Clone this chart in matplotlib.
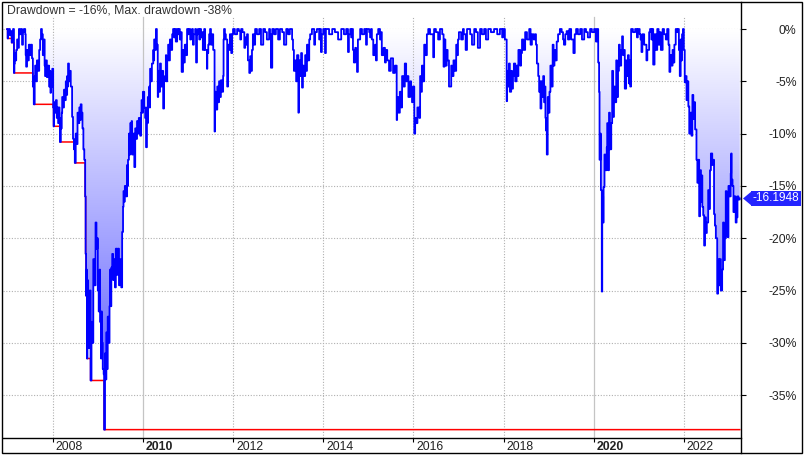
import numpy as np
import matplotlib
matplotlib.use("Agg")
import matplotlib.pyplot as plt
import matplotlib.transforms as mtransforms
from matplotlib.colors import LinearSegmentedColormap
from matplotlib.patches import Polygon, Rectangle
from matplotlib.lines import Line2D
from matplotlib.path import Path

# drawdown (%), (decimal year, value)
dd_2007 = [
    (2006.99, 0.0), (2007.00, -0.9), (2007.01, -0.3), (2007.03, 0.0), (2007.05, -0.6),
    (2007.07, -0.2), (2007.09, -1.3), (2007.10, -0.5), (2007.12, 0.0), (2007.14, -4.2),
    (2007.15, -3.3), (2007.16, -2.3), (2007.18, -3.0), (2007.19, -2.0), (2007.21, -1.0),
    (2007.23, -1.8), (2007.25, 0.0), (2007.27, -0.5), (2007.30, 0.0), (2007.32, -1.5),
    (2007.34, -0.3), (2007.36, 0.0), (2007.39, -0.5), (2007.40, -2.5), (2007.41, -3.6),
    (2007.43, -2.0), (2007.45, -3.0), (2007.47, -1.5), (2007.50, -2.5), (2007.52, -1.5),
    (2007.54, -2.8), (2007.56, -5.5), (2007.58, -7.2), (2007.60, -4.5), (2007.61, -3.5),
    (2007.63, -5.0), (2007.65, -3.0), (2007.67, -4.0), (2007.70, -2.0), (2007.72, -1.0),
    (2007.74, 0.0), (2007.76, -0.5), (2007.78, -2.5), (2007.81, -1.0), (2007.82, -3.5),
    (2007.83, -4.5), (2007.85, -3.0), (2007.87, -4.6), (2007.90, -3.5), (2007.92, -5.5),
    (2007.94, -4.0), (2007.95, -6.1), (2007.96, -4.5), (2007.98, -5.5), (2007.99, -3.8),
]
dd_2008 = [
    (2008.01, -7.5), (2008.02, -9.3), (2008.03, -7.0), (2008.05, -8.0), (2008.07, -6.8),
    (2008.09, -8.5), (2008.10, -7.5), (2008.12, -9.0), (2008.14, -7.5), (2008.15, -8.5),
    (2008.16, -10.8), (2008.18, -9.5), (2008.20, -8.0), (2008.21, -6.5), (2008.23, -7.5),
    (2008.25, -5.8), (2008.27, -6.8), (2008.29, -5.0), (2008.30, -6.3), (2008.32, -4.5),
    (2008.33, -5.5), (2008.34, -3.3), (2008.36, -5.0), (2008.38, -4.0), (2008.40, -5.5),
    (2008.43, -8.4), (2008.45, -10.5), (2008.47, -11.5), (2008.49, -12.8), (2008.51, -10.0),
    (2008.53, -11.0), (2008.55, -8.0), (2008.57, -9.0), (2008.59, -7.5), (2008.61, -8.7),
    (2008.62, -7.2), (2008.64, -8.0), (2008.66, -9.5), (2008.68, -11.5), (2008.70, -12.5),
    (2008.72, -16.0), (2008.73, -21.5), (2008.74, -25.5), (2008.75, -23.0), (2008.76, -31.5),
    (2008.77, -24.0), (2008.78, -29.0), (2008.79, -26.0), (2008.80, -30.5), (2008.82, -25.0),
    (2008.84, -33.6), (2008.86, -28.0), (2008.88, -30.0), (2008.90, -22.0), (2008.92, -24.5),
    (2008.95, -18.5), (2008.97, -21.0), (2008.99, -20.0),
]
dd_2009 = [
    (2009.00, -25.0), (2009.02, -27.0), (2009.04, -23.0), (2009.05, -28.0), (2009.07, -31.5),
    (2009.08, -27.0), (2009.09, -30.0), (2009.11, -32.5), (2009.13, -33.0), (2009.14, -38.3),
    (2009.16, -31.0), (2009.17, -33.5), (2009.19, -29.0), (2009.20, -32.5), (2009.22, -27.5),
    (2009.24, -30.0), (2009.26, -26.5), (2009.27, -23.0), (2009.29, -26.5), (2009.30, -22.8),
    (2009.32, -21.5), (2009.34, -24.0), (2009.36, -22.0), (2009.38, -24.7), (2009.40, -21.0),
    (2009.43, -23.5), (2009.45, -21.0), (2009.47, -24.5), (2009.49, -22.0), (2009.52, -24.7),
    (2009.54, -19.4), (2009.56, -17.0), (2009.57, -15.5), (2009.58, -16.5), (2009.60, -15.0),
    (2009.63, -16.0), (2009.65, -13.0), (2009.66, -15.0), (2009.67, -12.5), (2009.69, -10.0),
    (2009.70, -12.0), (2009.72, -9.0), (2009.74, -11.0), (2009.75, -8.8), (2009.76, -12.0),
    (2009.78, -10.0), (2009.81, -13.2), (2009.83, -9.5), (2009.85, -10.5), (2009.87, -8.8),
    (2009.89, -10.0), (2009.91, -8.5), (2009.94, -10.2), (2009.96, -8.0), (2009.97, -6.8),
    (2009.99, -8.0),
]
dd_2010_11 = [
    (2010.00, -6.0), (2010.03, -7.5), (2010.05, -8.5), (2010.07, -11.3), (2010.09, -7.5),
    (2010.10, -9.0), (2010.11, -6.5), (2010.14, -5.5), (2010.15, -7.5), (2010.16, -3.8),
    (2010.18, -5.0), (2010.20, -3.3), (2010.23, -2.0), (2010.24, -3.0), (2010.25, -1.0),
    (2010.27, -2.0), (2010.29, 0.0), (2010.31, -1.5), (2010.33, -6.5), (2010.34, -4.0),
    (2010.36, -6.0), (2010.38, -3.3), (2010.40, -5.5), (2010.42, -4.0), (2010.45, -7.6),
    (2010.47, -5.0), (2010.49, -4.5), (2010.51, -2.5), (2010.52, -5.0), (2010.54, -3.0),
    (2010.56, -1.5), (2010.58, -3.0), (2010.60, -1.0), (2010.62, -2.0), (2010.65, -0.5),
    (2010.67, 0.0), (2010.69, -0.8), (2010.71, 0.0), (2010.73, -1.2), (2010.76, 0.0),
    (2010.78, -0.5), (2010.80, 0.0), (2010.82, -1.0), (2010.85, -0.3), (2010.86, -4.1),
    (2010.89, -2.0), (2010.91, -3.2), (2010.93, -1.5), (2010.96, -2.5), (2010.98, 0.0),
    (2011.00, -0.5), (2011.02, 0.0), (2011.05, -1.0), (2011.07, -0.3), (2011.09, 0.0),
    (2011.11, -1.5), (2011.13, -0.5), (2011.16, 0.0), (2011.18, -3.2), (2011.20, -0.5),
    (2011.22, 0.0), (2011.25, -1.0), (2011.27, 0.0), (2011.29, -0.8), (2011.31, -0.3),
    (2011.33, -2.0), (2011.36, 0.0), (2011.38, -2.0), (2011.42, -3.8), (2011.43, -2.3),
    (2011.45, -1.5), (2011.47, -0.5), (2011.49, 0.0), (2011.51, -1.5), (2011.53, -0.5),
    (2011.56, -2.0), (2011.59, -9.8), (2011.60, -6.0), (2011.62, -7.7), (2011.65, -5.5),
    (2011.67, -7.0), (2011.69, -5.0), (2011.71, -6.5), (2011.73, -4.9), (2011.76, -6.0),
    (2011.78, -4.5), (2011.79, -1.0), (2011.80, 0.0), (2011.82, -0.5), (2011.84, -1.0),
    (2011.87, -5.5), (2011.89, -1.5), (2011.91, -2.0), (2011.93, -0.5), (2011.96, -2.3),
    (2011.98, -0.5),
]
dd_2012_14 = [
    (2012.00, 0.0), (2012.04, -0.5), (2012.09, 0.0), (2012.13, -0.2), (2012.16, -1.0),
    (2012.18, 0.0), (2012.21, -0.3), (2012.25, -1.8), (2012.27, -0.8), (2012.29, -1.5),
    (2012.31, -0.5), (2012.33, -3.0), (2012.36, -4.2), (2012.38, -2.6), (2012.40, -4.0),
    (2012.42, -2.0), (2012.44, -0.5), (2012.47, -1.5), (2012.49, 0.0), (2012.53, -0.5),
    (2012.58, 0.0), (2012.62, -1.5), (2012.67, 0.0), (2012.71, -0.3), (2012.75, -1.0),
    (2012.80, 0.0), (2012.82, -0.5), (2012.84, -3.7), (2012.87, 0.0), (2012.91, -0.5),
    (2012.95, 0.0), (2013.00, -1.0), (2013.04, 0.0), (2013.09, -0.3), (2013.13, -1.5),
    (2013.18, 0.0), (2013.22, -0.5), (2013.26, 0.0), (2013.31, -1.0), (2013.33, -2.0),
    (2013.35, -4.0), (2013.38, -3.0), (2013.40, -5.0), (2013.42, -2.5), (2013.45, -8.0),
    (2013.46, -3.0), (2013.49, -4.5), (2013.51, -2.3), (2013.53, -5.6), (2013.55, -3.5),
    (2013.57, -4.5), (2013.60, -2.5), (2013.62, -4.0), (2013.64, -1.5), (2013.66, -3.0),
    (2013.69, -1.0), (2013.71, -0.5), (2013.75, 0.0), (2013.80, -1.5), (2013.82, -0.3),
    (2013.86, 0.0), (2013.91, -1.0), (2013.93, 0.0), (2013.95, -2.2), (2013.97, -0.5),
    (2014.00, 0.0), (2014.04, -2.3), (2014.06, 0.0), (2014.13, -0.5), (2014.20, 0.0),
    (2014.26, -0.3), (2014.33, -1.0), (2014.40, 0.0), (2014.46, -0.5), (2014.51, 0.0),
    (2014.55, -2.2), (2014.57, -0.5), (2014.60, 0.0), (2014.62, -0.8), (2014.64, 0.0),
    (2014.66, -2.0), (2014.68, -3.2), (2014.71, -1.8), (2014.73, -3.0), (2014.75, -4.1),
    (2014.77, -1.0), (2014.82, 0.0), (2014.86, -0.5), (2014.91, 0.0), (2014.95, -1.5),
    (2014.97, 0.0),
]
dd_2015_17 = [
    (2015.02, -0.3), (2015.04, -0.8), (2015.06, 0.0), (2015.08, -1.0), (2015.11, -2.5),
    (2015.15, -1.5), (2015.17, -3.0), (2015.19, -0.5), (2015.22, 0.0), (2015.26, -1.0),
    (2015.28, -0.3), (2015.30, -2.5), (2015.34, -1.8), (2015.37, -3.2), (2015.39, -2.0),
    (2015.42, -3.0), (2015.46, -4.0), (2015.50, -2.8), (2015.55, -4.2), (2015.59, -3.5),
    (2015.63, -8.7), (2015.64, -6.5), (2015.67, -8.0), (2015.70, -6.0), (2015.73, -7.5),
    (2015.75, -4.5), (2015.78, -5.5), (2015.81, -3.3), (2015.84, -5.0), (2015.86, -4.5),
    (2015.89, -6.5), (2015.93, -5.0), (2015.95, -6.0), (2015.97, -7.0), (2015.99, -5.5),
    (2016.02, -10.0), (2016.04, -8.5), (2016.06, -9.0), (2016.09, -7.5), (2016.13, -8.5),
    (2016.15, -4.5), (2016.17, -6.0), (2016.19, -3.5), (2016.21, -5.0), (2016.24, -1.5),
    (2016.27, -2.5), (2016.30, -0.5), (2016.33, 0.0), (2016.37, -0.5), (2016.44, -2.7),
    (2016.46, 0.0), (2016.50, -0.3), (2016.55, -1.0), (2016.59, 0.0), (2016.64, -0.5),
    (2016.67, -3.6), (2016.69, -1.0), (2016.71, -3.5), (2016.74, -2.0), (2016.76, -3.0),
    (2016.79, -5.5), (2016.84, -3.5), (2016.86, -4.5), (2016.89, -3.0), (2016.92, -4.0),
    (2016.95, -1.5), (2016.97, -2.5), (2016.99, -1.0), (2017.01, -0.3), (2017.06, -1.0),
    (2017.10, 0.0), (2017.12, -0.5), (2017.16, -2.0), (2017.19, 0.0), (2017.26, -0.5),
    (2017.30, -1.5), (2017.35, 0.0), (2017.39, -0.3), (2017.43, -1.8), (2017.48, 0.0),
    (2017.52, -0.5), (2017.57, 0.0), (2017.61, -1.0), (2017.66, 0.0), (2017.72, -0.3),
    (2017.79, 0.0), (2017.86, -0.5), (2017.92, 0.0), (2017.97, -0.8), (2017.99, 0.0),
]
dd_2018_19 = [
    (2018.03, -1.0), (2018.07, -6.9), (2018.08, -4.0), (2018.10, -5.5), (2018.12, -3.3),
    (2018.14, -6.0), (2018.17, -4.0), (2018.19, -5.7), (2018.21, -4.5), (2018.23, -3.3),
    (2018.26, -5.0), (2018.29, -3.5), (2018.31, -4.5), (2018.33, -2.0), (2018.37, -3.5),
    (2018.39, -2.3), (2018.41, -1.0), (2018.44, -2.0), (2018.48, -0.3), (2018.52, -1.0),
    (2018.57, 0.0), (2018.60, -1.5), (2018.63, -0.5), (2018.67, -1.0), (2018.70, -0.5),
    (2018.72, -1.5), (2018.74, -3.3), (2018.77, -4.5), (2018.79, -6.0), (2018.81, -5.0),
    (2018.82, -7.6), (2018.84, -5.0), (2018.85, -6.5), (2018.88, -4.5), (2018.90, -7.0),
    (2018.92, -5.5), (2018.93, -8.5), (2018.94, -9.7), (2018.96, -12.0), (2018.98, -6.5),
    (2019.00, -8.0), (2019.02, -6.0), (2019.04, -3.5), (2019.07, -5.5), (2019.09, -1.5),
    (2019.11, -3.5), (2019.13, -2.0), (2019.15, -3.0), (2019.18, -1.2), (2019.21, -0.5),
    (2019.25, 0.0), (2019.29, -0.3), (2019.32, -1.0), (2019.34, -1.5), (2019.37, -0.5),
    (2019.40, -0.2), (2019.43, -1.0), (2019.46, 0.0), (2019.50, -1.0), (2019.55, -2.3),
    (2019.58, -0.5), (2019.61, 0.0), (2019.65, -0.5), (2019.70, 0.0), (2019.74, -1.0),
    (2019.79, 0.0), (2019.83, -0.3), (2019.87, -0.8), (2019.92, 0.0), (2019.96, -0.3),
]
dd_2020_21 = [
    (2020.01, 0.0), (2020.04, -0.3), (2020.05, -1.2), (2020.07, 0.0), (2020.10, -3.2),
    (2020.12, -6.0), (2020.13, -12.5), (2020.15, -10.0), (2020.16, -15.4), (2020.18, -25.1),
    (2020.19, -16.0), (2020.21, -18.5), (2020.22, -15.1), (2020.24, -12.0), (2020.26, -13.5),
    (2020.29, -11.3), (2020.30, -9.0), (2020.32, -13.5), (2020.34, -8.0), (2020.36, -11.5),
    (2020.39, -9.0), (2020.41, -4.0), (2020.43, -8.4), (2020.45, -5.5), (2020.47, -7.0),
    (2020.50, -3.0), (2020.52, -6.5), (2020.54, -4.0), (2020.56, -1.5), (2020.58, -3.5),
    (2020.61, -2.0), (2020.63, -0.7), (2020.65, -2.5), (2020.67, -2.0), (2020.69, -5.7),
    (2020.72, -3.0), (2020.74, -4.5), (2020.76, -2.5), (2020.78, -5.2), (2020.80, -3.0),
    (2020.81, -5.5), (2020.83, 0.0), (2020.87, -0.3), (2020.92, 0.0), (2020.96, -0.8),
    (2020.98, 0.0), (2021.02, -0.5), (2021.04, -1.0), (2021.06, -2.2), (2021.08, -0.5),
    (2021.12, -1.5), (2021.15, -1.5), (2021.17, -3.0), (2021.19, -2.0), (2021.23, -0.3),
    (2021.25, 0.0), (2021.28, -1.0), (2021.30, 0.0), (2021.32, -3.4), (2021.35, -0.5),
    (2021.38, -2.0), (2021.41, 0.0), (2021.44, -1.5), (2021.47, -0.3), (2021.49, -2.0),
    (2021.53, 0.0), (2021.56, -0.5), (2021.60, -1.0), (2021.63, 0.0), (2021.66, -1.5),
    (2021.68, -4.1), (2021.70, -2.5), (2021.73, -3.5), (2021.75, -2.0), (2021.77, -3.2),
    (2021.79, -1.5), (2021.82, 0.0), (2021.85, -0.3), (2021.87, 0.0), (2021.89, -2.0),
    (2021.91, -4.5), (2021.93, -1.0), (2021.94, -3.0), (2021.96, -0.5), (2021.98, 0.0),
]
dd_2022_23 = [
    (2022.00, -2.0), (2022.02, -5.1), (2022.04, -4.5), (2022.06, -6.8), (2022.08, -5.0),
    (2022.10, -7.4), (2022.12, -10.0), (2022.14, -8.0), (2022.17, -10.2), (2022.19, -6.3),
    (2022.21, -8.6), (2022.23, -7.0), (2022.25, -9.6), (2022.28, -12.5), (2022.30, -14.7),
    (2022.32, -12.5), (2022.34, -17.9), (2022.36, -13.5), (2022.38, -16.5), (2022.40, -14.0),
    (2022.41, -17.0), (2022.43, -17.8), (2022.45, -20.7), (2022.47, -18.0), (2022.49, -19.5),
    (2022.51, -18.5), (2022.54, -15.4), (2022.56, -17.2), (2022.58, -13.5), (2022.60, -11.9),
    (2022.63, -13.0), (2022.65, -12.5), (2022.67, -17.7), (2022.69, -18.8), (2022.71, -20.0),
    (2022.74, -25.3), (2022.76, -22.0), (2022.78, -24.5), (2022.80, -22.0), (2022.82, -25.0),
    (2022.85, -23.0), (2022.87, -18.5), (2022.89, -22.1), (2022.91, -20.0), (2022.93, -15.5),
    (2022.95, -17.5), (2022.97, -19.9), (2022.99, -15.0), (2023.01, -16.0), (2023.04, -13.8),
    (2023.05, -11.9), (2023.06, -14.4), (2023.08, -15.0), (2023.10, -17.5), (2023.12, -16.0),
    (2023.15, -18.5), (2023.17, -18.0), (2023.19, -16.0), (2023.21, -16.3), (2023.24, -16.1948),
]

year_ticks = [2008, 2010, 2012, 2014, 2016, 2018, 2020, 2022]
year_labels = ["2008", "2010", "2012", "2014", "2016", "2018", "2020", "2022"]
bold_years = [2010, 2020]
pct_ticks = [0, -5, -10, -15, -20, -25, -30, -35]
pct_labels = ["0%", "-5%", "-10%", "-15%", "-20%", "-25%", "-30%", "-35%"]

W, H = 805, 455


def main():
    pts = (dd_2007 + dd_2008 + dd_2009 + dd_2010_11 + dd_2012_14 +
           dd_2015_17 + dd_2018_19 + dd_2020_21 + dd_2022_23)
    t = np.array([p[0] for p in pts])
    dd = np.array([p[1] for p in pts])
    maxdd = np.minimum.accumulate(dd)

    plt.rcParams['font.family'] = ['Liberation Sans', 'DejaVu Sans']
    fig = plt.figure(figsize=(W / 100, H / 100), dpi=100)
    ax = fig.add_axes([2.5 / W, 17 / H, 738.5 / W, 436.5 / H])

    xmin, xmax = 2006.886, 2023.268
    ymin, ymax = -39.1, 2.63

    # gradient fill between 0 and the drawdown curve
    xs = np.repeat(t, 2)[1:]
    ys = np.repeat(dd, 2)[:-1]
    verts = np.column_stack([np.r_[xs, t[-1], t[0]], np.r_[ys, 0, 0]])
    poly = Polygon(verts, closed=True, fc='none', ec='none')
    ax.add_patch(poly)
    cmap = LinearSegmentedColormap.from_list('dd', ['#ffffff', '#4c4cff'])
    grad = np.linspace(0, 1, 256).reshape(-1, 1)
    im = ax.imshow(grad, cmap=cmap, aspect='auto', origin='upper',
                   extent=[t[0], t[-1], ymin, 0], zorder=1, interpolation='bilinear')
    im.set_clip_path(poly)

    ax.step(t, maxdd, where='post', color='#ff0000', lw=1.1, zorder=2)
    ax.step(t, dd, where='post', color='#0000ff', lw=1.3, zorder=3)

    ax.set_xlim(xmin, xmax)
    ax.set_ylim(ymin, ymax)

    # grid
    ax.set_axisbelow(True)
    for p in pct_ticks:
        ax.axhline(p, color='#b0b0b0', lw=0.8, ls=(0, (1, 1.5)), zorder=0.5)
    gtop = (438 - 17) / 436.5
    for yr in year_ticks:
        if yr in bold_years:
            ax.axvline(yr, ymax=gtop, color='#c4c4c4', lw=0.9, zorder=1.5)
        else:
            ax.axvline(yr, ymax=gtop, color='#b0b0b0', lw=0.8, ls=(0, (1, 1.5)), zorder=1.5)

    for s in ['left', 'top', 'right']:
        ax.spines[s].set_visible(False)
    ax.spines['bottom'].set_linewidth(1.0)

    # y axis on the right
    ax.yaxis.tick_right()
    ax.set_yticks(pct_ticks, pct_labels)
    ax.tick_params(axis='y', direction='out', length=3.6, width=0.8, pad=36.5,
                   labelsize=8.8, labelcolor='#222222')
    for lab in ax.get_yticklabels():
        lab.set_horizontalalignment('right')

    # x ticks with labels to the right of the tick
    ax.set_xticks(year_ticks, [''] * len(year_ticks))
    ax.tick_params(axis='x', direction='out', length=3.0, width=0.8)
    xtrans = mtransforms.offset_copy(
        mtransforms.blended_transform_factory(ax.transData, ax.transAxes),
        fig=fig, x=3, y=-2.5, units='dots')
    for yr, lab in zip(year_ticks, year_labels):
        ax.text(yr, 0, lab, transform=xtrans, ha='left', va='top', fontsize=8.8,
                color='#222222', fontweight='bold' if yr in bold_years else 'normal',
                clip_on=False)

    # frame and right axis line
    fig.patches.append(Rectangle((2 / W, 2.5 / H), 799.5 / W, 451 / H, fill=False,
                                 ec='black', lw=1.0, transform=fig.transFigure))
    fig.lines.append(Line2D([741 / W, 741 / W], [2.5 / H, 453.5 / H], color='black',
                            lw=1.0, transform=fig.transFigure))

    # title
    fig.text(6.7 / W, (H - 13.7) / H,
             "Drawdown = %d%%, Max. drawdown %d%%" % (round(dd[-1]), round(maxdd[-1])),
             ha='left', va='baseline', fontsize=8.8, color='#333333')

    # last value tag
    tagtrans = mtransforms.blended_transform_factory(ax.transAxes, ax.transData)
    ax.text(1.0, dd[-1], "%.4f" % dd[-1],
            transform=mtransforms.offset_copy(tagtrans, fig=fig, x=34.8, y=0, units='dots'),
            ha='center', va='center', fontsize=8.5, color='white', clip_on=False,
            bbox=dict(boxstyle='square,pad=0.15', fc='#2424ff', ec='none'))
    tri = Path([(-0.6, 0), (0.6, 1), (0.6, -1), (-0.6, 0)])
    ax.plot([1.0], [dd[-1]], marker=tri, ms=10.8, mew=0, color='#2424ff', clip_on=False,
            transform=mtransforms.offset_copy(tagtrans, fig=fig, x=6.2, y=0, units='dots'))

    fig.savefig('out.png', dpi=100)


if __name__ == '__main__':
    main()
